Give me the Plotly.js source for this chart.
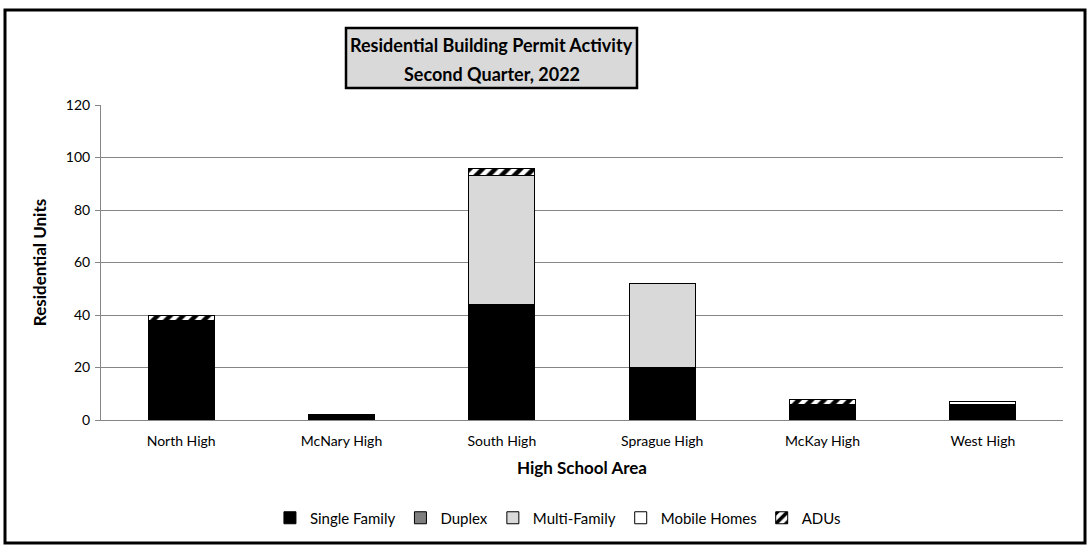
<!DOCTYPE html>
<html>
<head>
<meta charset="utf-8">
<script src="https://cdn.plot.ly/plotly-3.0.1.min.js"></script>
<style>html,body{margin:0;padding:0;background:#fff;}#chart{width:1087px;height:551px;}</style>
</head>
<body>
<div id="chart"></div>
<script>
const categories = ["North High", "McNary High", "South High", "Sprague High", "McKay High", "West High"];
const singleFamily = [38, 2, 44, 20, 6, 6];
const duplex = [0, 0, 0, 0, 0, 0];
const multiFamily = [0, 0, 49, 32, 0, 0];
const mobileHomes = [0, 0, 0, 0, 0, 1];
const adus = [2, 0, 3, 0, 2, 0];
const yTicks = [0, 20, 40, 60, 80, 100, 120];

const FONT = "Lato, 'Open Sans', sans-serif";
const lineStyle = {color: "#000000", width: 1};

function bar(name, y, color, extra) {
  const m = Object.assign({color: color, line: lineStyle}, extra || {});
  return {type: "bar", name: name, x: categories, y: y, marker: m, hoverinfo: "x+y+name"};
}

const traces = [
  bar("Single Family", singleFamily, "#000000"),
  bar("Duplex", duplex, "#7f7f7f"),
  bar("Multi-Family", multiFamily, "#d9d9d9"),
  bar("Mobile Homes", mobileHomes, "#ffffff"),
  bar("ADUs", adus, "#ffffff", {pattern: {shape: "/", fgcolor: "#000000", bgcolor: "#ffffff", size: 9, solidity: 0.5}})
];

const L = 101, R = 1063, T = 105, B = 420;
const W = 1087, H = 551;
const px = v => (v - L) / (R - L);
const py = v => (B - v) / (B - T);

const layout = {
  width: W, height: H,
  margin: {l: L, r: W - R, t: T, b: H - B, pad: 0},
  paper_bgcolor: "#ffffff", plot_bgcolor: "#ffffff",
  barmode: "stack",
  bargap: 0.59,
  showlegend: true,
  font: {family: FONT, size: 14, color: "#000000"},
  xaxis: {
    type: "category",
    showgrid: false,
    showline: true, linecolor: "#868686", linewidth: 1,
    ticks: "", tickfont: {family: FONT, size: 14},
    ticklabelstandoff: 8,
    title: {text: "<b>High School Area</b>", font: {family: FONT, size: 17}, standoff: 14},
    fixedrange: true
  },
  yaxis: {
    range: [0, 120],
    tickvals: yTicks,
    ticktext: yTicks.map(String),
    showgrid: true, gridcolor: "#868686", gridwidth: 1,
    showline: true, linecolor: "#868686", linewidth: 1,
    ticks: "outside", ticklen: 5, tickcolor: "#868686",
    tickfont: {family: FONT, size: 14},
    ticklabelstandoff: 2,
    zeroline: false,
    title: {text: "<b>Residential Units</b>", font: {family: FONT, size: 17}, standoff: 14},
    fixedrange: true
  },
  legend: {
    orientation: "h", x: 0.475, xanchor: "center", y: py(518), yanchor: "middle",
    traceorder: "normal", font: {family: FONT, size: 15}, itemwidth: 30,
    bgcolor: "rgba(0,0,0,0)"
  },
  shapes: [
    {type: "rect", xref: "paper", yref: "paper", x0: px(5), x1: px(1085), y0: py(543), y1: py(10),
     line: {color: "#000000", width: 3}, fillcolor: "rgba(0,0,0,0)", layer: "above"},
    {type: "rect", xref: "paper", yref: "paper", x0: px(346), x1: px(637), y0: py(88), y1: py(28),
     line: {color: "#000000", width: 2.5}, fillcolor: "#d9d9d9", layer: "above"}
  ],
  annotations: [
    {xref: "paper", yref: "paper", x: px(491.5), y: py(45), xanchor: "center", yanchor: "middle",
     text: "<b>Residential Building Permit Activity</b>", showarrow: false,
     font: {family: FONT, size: 18, color: "#000000"}},
    {xref: "paper", yref: "paper", x: px(491.5), y: py(74), xanchor: "center", yanchor: "middle",
     text: "<b>Second Quarter, 2022</b>", showarrow: false,
     font: {family: FONT, size: 18, color: "#000000"}}
  ]
};

Plotly.newPlot("chart", traces, layout, {displayModeBar: false, staticPlot: true});
</script>
</body>
</html>
